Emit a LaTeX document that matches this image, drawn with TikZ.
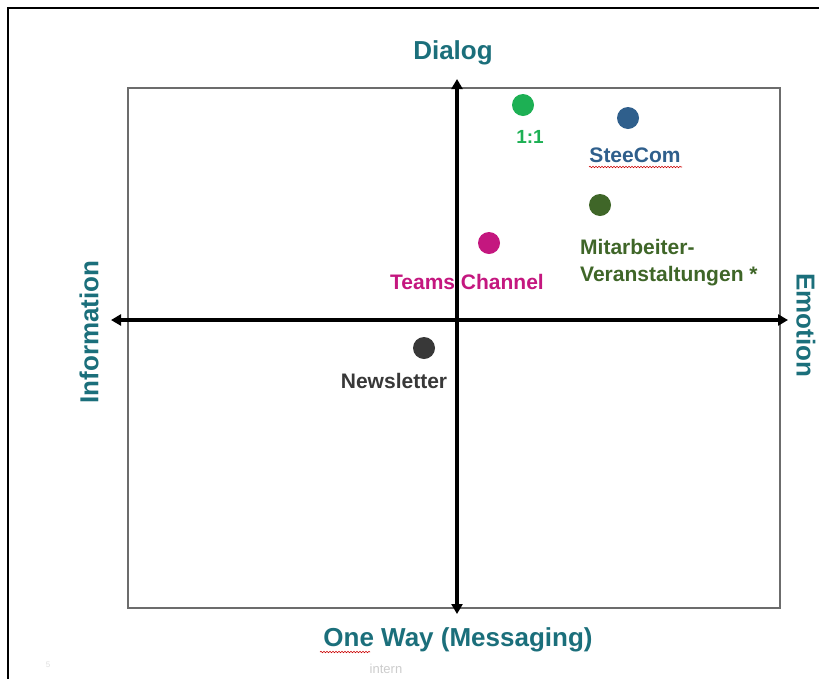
\documentclass[tikz,border=0pt]{standalone}
\usepackage{fontspec}
\setmainfont{Liberation Sans}
\usetikzlibrary{arrows.meta,decorations.pathmorphing}
\definecolor{teal}{HTML}{1B6F7B}
\definecolor{cgreen}{HTML}{1DB054}
\definecolor{cblue}{HTML}{2F5F8C}
\definecolor{colive}{HTML}{3F6628}
\definecolor{cmag}{HTML}{C4177F}
\definecolor{cgray}{HTML}{383838}
\tikzset{
  dot/.style={circle,fill=#1,minimum size=22pt,inner sep=0pt,draw=none},
  lbl/.style={text=#1,font=\fontsize{21}{25}\selectfont\bfseries,inner sep=0pt},
  axislbl/.style={text=teal,font=\fontsize{26}{30}\selectfont\bfseries,inner sep=0pt},
  axisline/.style={line width=3.2pt,black,{Triangle[length=10pt,width=11pt]}-{Triangle[length=10pt,width=11pt]}},
  spell/.style={red!80!black,line width=0.6pt,decorate,decoration={snake,amplitude=0.7pt,segment length=3pt}}
}
\begin{document}
\begin{tikzpicture}[x=1pt,y=-1pt]
\useasboundingbox (0,0) rectangle (819,678);
\fill[white] (0,0) rectangle (819,678);
% outer frame
\draw[line width=2.4pt,black] (8,680) -- (8,8) -- (821,8);
% inner box
\draw[line width=1.6pt,gray!85!black] (128,88) rectangle (780,608);
% axes
\coordinate (top) at (457,79);
\coordinate (bot) at (457,614);
\coordinate (lft) at (111,320);
\coordinate (rgt) at (788,320);
\draw[axisline] (bot) -- (top);
\draw[axisline] (lft) -- (rgt);
% axis labels
\node[axislbl] (dialog) at (453,53) {Dialog};
\node[axislbl] (oneway) at (458,640) {One Way (Messaging)};
\node[axislbl,rotate=90] (info) at (89,332) {Information};
\node[axislbl,rotate=-90] (emo) at (806,325) {Emotion};
\draw[spell] (320,652) -- (370,652);
% dots
\node[dot=cgreen] (d11) at (523,105) {};
\node[dot=cblue] (dsc) at (628,118) {};
\node[dot=colive] (dma) at (600,205) {};
\node[dot=cmag] (dtc) at (489,243) {};
\node[dot=cgray] (dnl) at (424,348) {};
% labels
\node[lbl=cgreen,font=\fontsize{19}{23}\selectfont\bfseries] (l11) at (530,137) {1:1};
\node[lbl=cblue] (lsc) at (635,155) {SteeCom};
\draw[spell] (589,167) -- (682,167);
\node[lbl=colive,anchor=west,align=left] (lma) at (580,263) {Mitarbeiter-\\[2pt]Veranstaltungen *};
\node[lbl=cmag] (ltc) at (467,282) {Teams Channel};
\node[lbl=cgray] (lnl) at (394,381) {Newsletter};
% footer
\node[text=gray!40,font=\fontsize{13}{15}\selectfont,inner sep=0pt] (intern) at (386,669) {intern};
\node[text=gray!25,font=\fontsize{8}{10}\selectfont,inner sep=0pt] (pg) at (48,665) {5};
\end{tikzpicture}
\end{document}
